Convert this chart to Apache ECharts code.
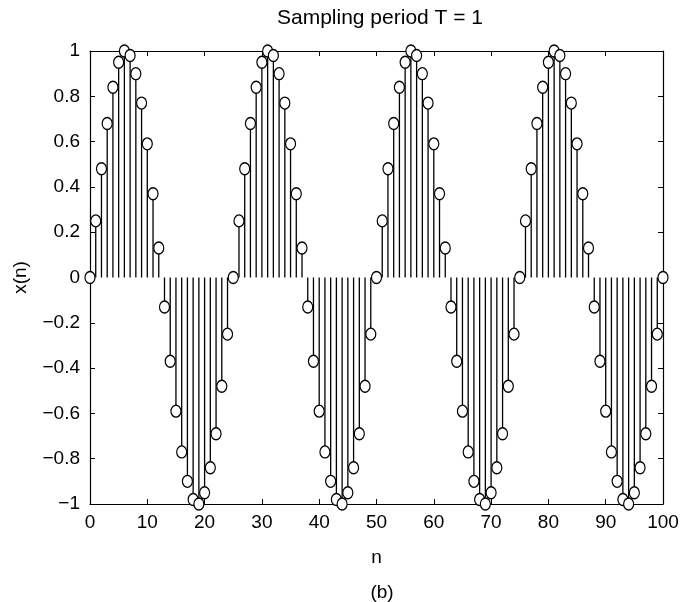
<!DOCTYPE html>
<html><head><meta charset="utf-8">
<script src="https://cdn.jsdelivr.net/npm/echarts@6/dist/echarts.min.js"></script>
<style>html,body{margin:0;padding:0;background:#fff}#c{width:685px;height:602px}</style>
</head><body><div id="c"></div>
<script>
var titleText = 'Sampling period T = 1';
var xLabel = 'n';
var yLabel = 'x(n)';
var caption = '(b)';
var xTicks = [0, 10, 20, 30, 40, 50, 60, 70, 80, 90, 100];
var yTicks = [-1, -0.8, -0.6, -0.4, -0.2, 0, 0.2, 0.4, 0.6, 0.8, 1];
var nValues = [];
for (var i = 0; i <= 100; i++) nValues.push(i);
var xValues = [
  0, 0.25, 0.48, 0.68, 0.84, 0.95, 1.0, 0.98, 0.90, 0.77, 0.59, 0.37, 0.13,
  -0.13, -0.37, -0.59, -0.77, -0.90, -0.98, -1.0, -0.95, -0.84, -0.69, -0.48, -0.25,
  0, 0.25, 0.48, 0.68, 0.84, 0.95, 1.0, 0.98, 0.90, 0.77, 0.59, 0.37, 0.13,
  -0.13, -0.37, -0.59, -0.77, -0.90, -0.98, -1.0, -0.95, -0.84, -0.69, -0.48, -0.25,
  0, 0.25, 0.48, 0.68, 0.84, 0.95, 1.0, 0.98, 0.90, 0.77, 0.59, 0.37, 0.13,
  -0.13, -0.37, -0.59, -0.77, -0.90, -0.98, -1.0, -0.95, -0.84, -0.69, -0.48, -0.25,
  0, 0.25, 0.48, 0.68, 0.84, 0.95, 1.0, 0.98, 0.90, 0.77, 0.59, 0.37, 0.13,
  -0.13, -0.37, -0.59, -0.77, -0.90, -0.98, -1.0, -0.95, -0.84, -0.69, -0.48, -0.25,
  0
];
var pts = nValues.map(function (n, i) { return [n, xValues[i]]; });
var font = 'Liberation Sans, Arial, Helvetica, sans-serif';
function fmt(v) { return String(+v.toFixed(1)).replace('-', '\u2212'); }
var chart = echarts.init(document.getElementById('c'), null, {renderer: 'canvas'});
var axisCommon = {
  axisLine: {show: true, onZero: false, lineStyle: {color: '#000', width: 1.2}},
  axisTick: {show: true, inside: true, length: 5, lineStyle: {color: '#000', width: 1}},
  splitLine: {show: false}
};
chart.setOption({
  animation: false,
  backgroundColor: '#fff',
  title: [
    {text: titleText, left: 375, top: 3, textAlign: 'center',
     textStyle: {fontFamily: font, fontSize: 21, fontWeight: 'normal', color: '#000'}},
    {text: caption, left: 377, top: 578, textAlign: 'center',
     textStyle: {fontFamily: font, fontSize: 19, fontWeight: 'normal', color: '#000'}}
  ],
  grid: {left: 90, right: 22, top: 51, bottom: 98, containLabel: false},
  xAxis: [
    Object.assign({}, axisCommon, {
      type: 'value', min: 0, max: 100, interval: 10, position: 'bottom',
      name: xLabel, nameLocation: 'middle', nameGap: 44,
      nameTextStyle: {fontFamily: font, fontSize: 19, color: '#000'},
      axisLabel: {fontFamily: font, fontSize: 19, color: '#000', margin: 9, formatter: fmt}
    }),
    Object.assign({}, axisCommon, {
      type: 'value', min: 0, max: 100, interval: 10, position: 'top',
      axisLabel: {show: false}
    })
  ],
  yAxis: [
    Object.assign({}, axisCommon, {
      type: 'value', min: -1, max: 1, interval: 0.2, position: 'left',
      name: yLabel, nameLocation: 'middle', nameGap: 60, nameRotate: 90,
      nameTextStyle: {fontFamily: font, fontSize: 19, color: '#000'},
      axisLabel: {fontFamily: font, fontSize: 19, color: '#000', margin: 10, formatter: fmt}
    }),
    Object.assign({}, axisCommon, {
      type: 'value', min: -1, max: 1, interval: 0.2, position: 'right',
      axisLabel: {show: false}
    })
  ],
  series: [
    {
      type: 'custom', xAxisIndex: 0, yAxisIndex: 0, data: pts, silent: true,
      renderItem: function (params, api) {
        var p0 = api.coord([api.value(0), 0]);
        var p1 = api.coord([api.value(0), api.value(1)]);
        return {type: 'line', shape: {x1: p0[0], y1: p0[1], x2: p1[0], y2: p1[1]},
                style: {stroke: '#000', lineWidth: 1.3}};
      },
      z: 2
    },
    {
      type: 'scatter', xAxisIndex: 0, yAxisIndex: 0, data: pts,
      symbol: 'circle', symbolSize: [10, 12],
      itemStyle: {color: '#fff', borderColor: '#000', borderWidth: 1.3, opacity: 1},
      z: 3
    }
  ]
});
</script></body></html>
